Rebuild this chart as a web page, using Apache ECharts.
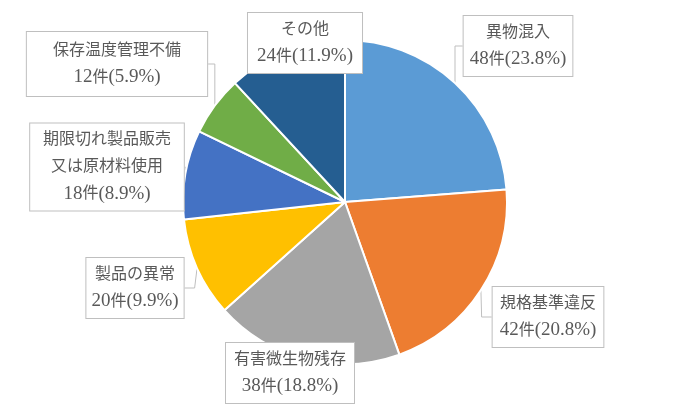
<!DOCTYPE html>
<html>
<head>
<meta charset="utf-8">
<script src="https://cdn.jsdelivr.net/npm/echarts@6/dist/echarts.min.js"></script>
<style>
  html, body { margin: 0; padding: 0; background: #fff; }
  #chart { width: 680px; height: 410px; }
</style>
</head>
<body>
<div id="chart"></div>
<script>
// data
var categories = ['異物混入', '規格基準違反', '有害微生物残存', '製品の異常',
                  '期限切れ製品販売\n又は原材料使用', '保存温度管理不備', 'その他'];
var counts = [48, 42, 38, 20, 18, 12, 24];

// styling only
var colors = ['#5B9BD5', '#ED7D31', '#A5A5A5', '#FFC000', '#4472C4', '#70AD47', '#255E91'];
var labelCenters = [[518, 46], [548, 317], [290, 373], [135, 288], [107, 167], [117, 64], [305, 43]];
var labelPads = [[3, 6], [3, 7], [3, 8], [3, 5], [3, 7], [5, 24], [3, 9]];

var chart = echarts.init(document.getElementById('chart'));

var data = [];
for (var i = 0; i < categories.length; i++) {
    data.push({
        name: categories[i],
        value: counts[i],
        itemStyle: { color: colors[i] },
        label: { padding: labelPads[i] }
    });
}

var fontList = '"Liberation Serif", "Noto Sans CJK JP", serif';

chart.setOption({
    animation: false,
    series: [{
        type: 'pie',
        center: [345, 202],
        radius: 162,
        startAngle: 90,
        clockwise: true,
        percentPrecision: 1,
        itemStyle: { borderColor: '#fff', borderWidth: 2 },
        label: {
            show: true,
            position: 'outside',
            formatter: function (p) {
                var lines = p.name.split('\n').map(function (s) { return '{t|' + s + '}'; });
                lines.push('{v|' + p.value + '}{t|件}{v|(' + p.percent.toFixed(1) + '%)}');
                return lines.join('\n');
            },
            fontFamily: fontList,
            fontSize: 16,
            lineHeight: 27,
            color: '#595959',
            align: 'center',
            backgroundColor: '#fff',
            borderColor: '#bfbfbf',
            borderWidth: 1,
            rich: {
                t: { fontFamily: fontList, fontSize: 16, lineHeight: 27, color: '#595959' },
                v: { fontFamily: fontList, fontSize: 19, lineHeight: 27, color: '#595959' }
            }
        },
        labelLine: {
            show: true,
            length: 10,
            length2: 10,
            lineStyle: { color: '#bfbfbf', width: 1 }
        },
        labelLayout: function (params) {
            var c = labelCenters[params.dataIndex];
            return { x: c[0], y: c[1], align: 'center', verticalAlign: 'middle' };
        },
        data: data
    }]
});
</script>
</body>
</html>
